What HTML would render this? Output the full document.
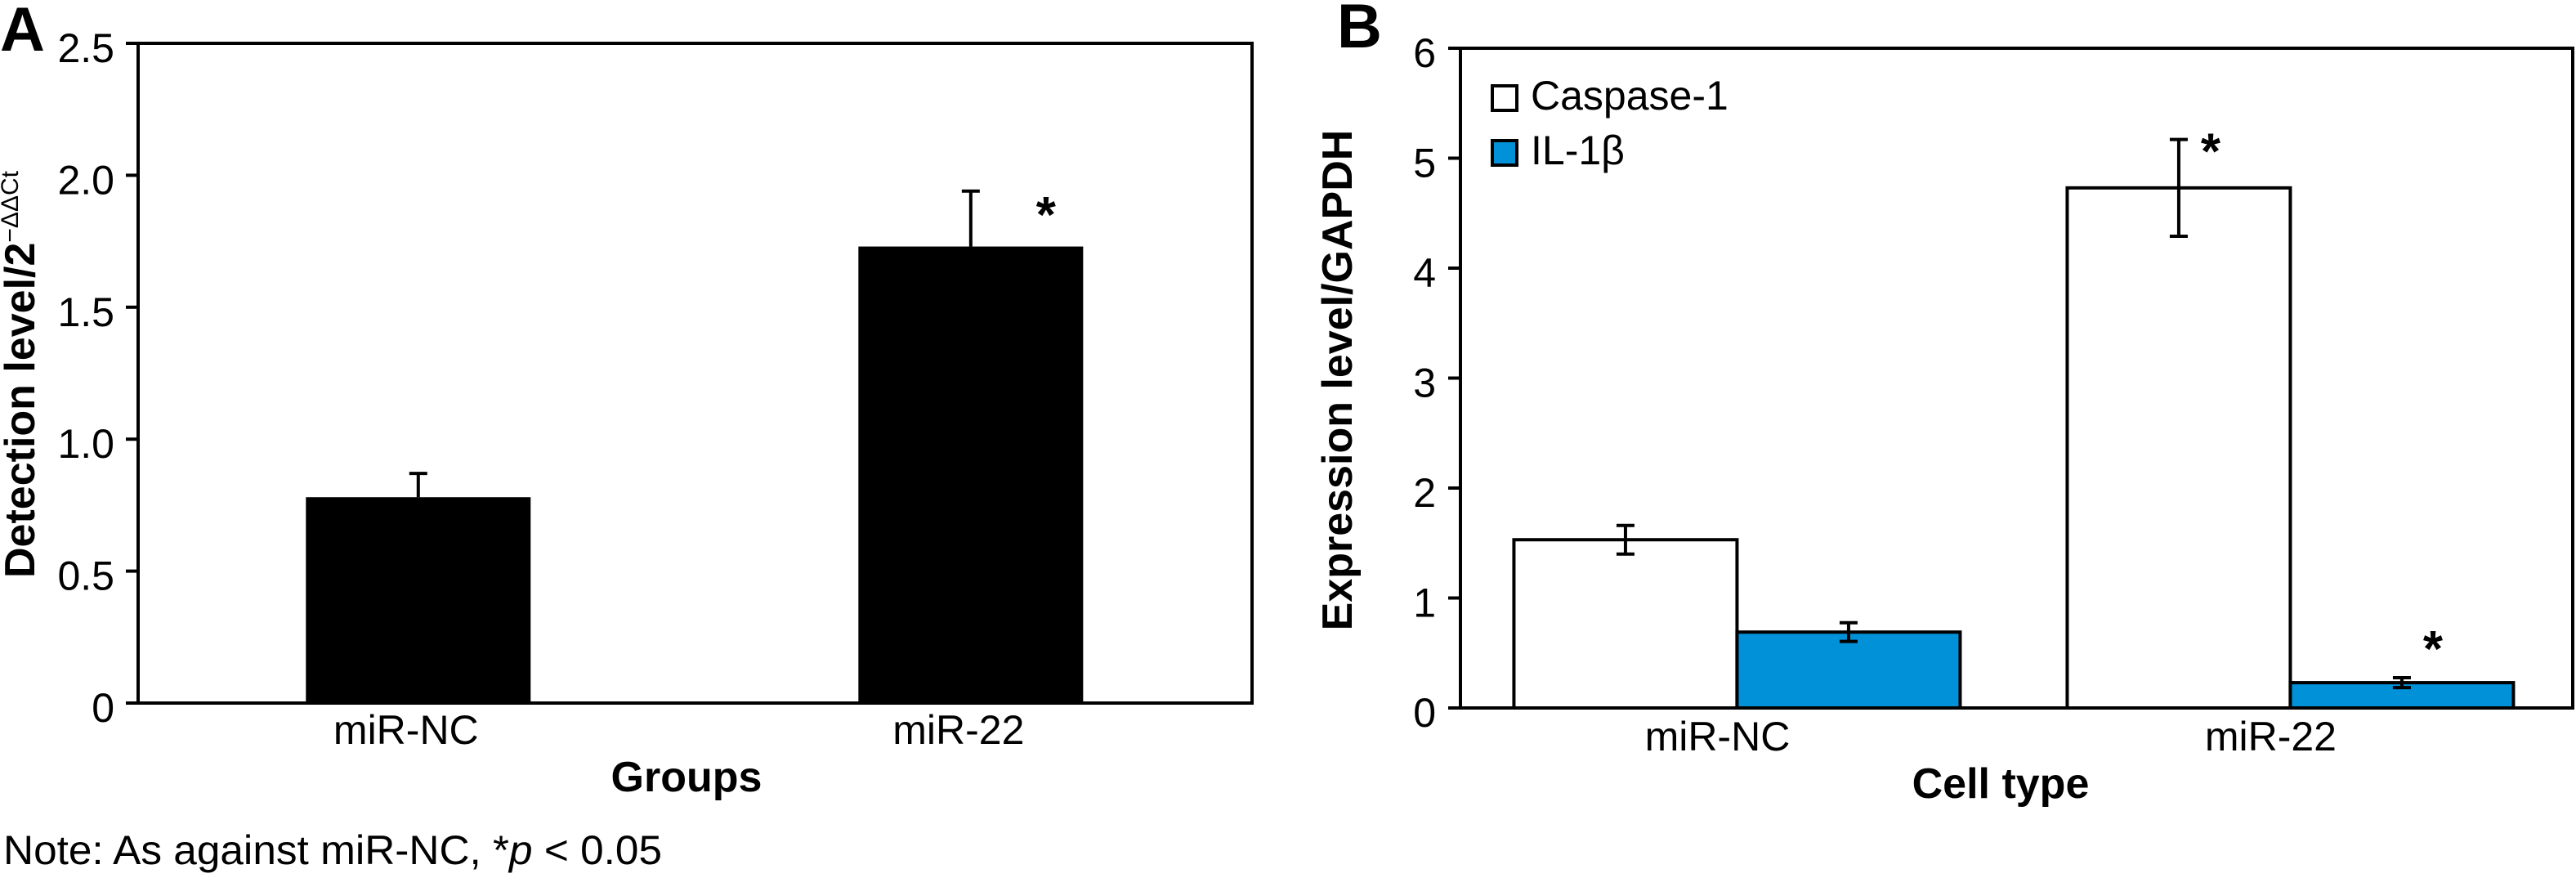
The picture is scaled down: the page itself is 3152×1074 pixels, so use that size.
<!DOCTYPE html>
<html><head><meta charset="utf-8"><style>
html,body{margin:0;padding:0;background:#fff;}
svg{display:block;}
text{font-family:"Liberation Sans Narrow","Liberation Sans",sans-serif;fill:#000;}
.b{font-weight:bold;}
</style></head><body>
<svg id="fig" width="3152" height="1074" viewBox="0 0 3152 1074" xmlns="http://www.w3.org/2000/svg">
<text x="0" y="62" font-size="76" class="b">A</text>
<text x="1636" y="58" font-size="76" class="b">B</text>
<text x="4" y="1057" font-size="50" textLength="806" lengthAdjust="spacingAndGlyphs">Note: As against miR-NC, *<tspan font-style="italic">p</tspan> &lt; 0.05</text>
<g id="ga"></g>
<g id="gb"></g>
</svg>
<script>
const aCategories = ["miR-NC", "miR-22"];
const aValues = [0.78, 1.73];
const aErrors = [0.09, 0.21];
const aTicks = [0, 0.5, 1.0, 1.5, 2.0, 2.5];
const aTickLabels = ["0", "0.5", "1.0", "1.5", "2.0", "2.5"];
const aSignificant = [false, true];

const bCategories = ["miR-NC", "miR-22"];
const bSeries = ["Caspase-1", "IL-1β"];
const bCaspase = [1.53, 4.73];
const bCaspaseErr = [0.13, 0.44];
const bIL = [0.69, 0.23];
const bILErr = [0.085, 0.045];
const bCaspaseSig = [false, true];
const bILSig = [false, true];
const bTicks = [0, 1, 2, 3, 4, 5, 6];
const bTickLabels = ["0", "1", "2", "3", "4", "5", "6"];

const NS = "http://www.w3.org/2000/svg";
function mk(parent, tag, attrs, txt) {
  const e = document.createElementNS(NS, tag);
  for (const k in attrs) e.setAttribute(k, attrs[k]);
  if (txt !== undefined) e.textContent = txt;
  parent.appendChild(e);
  return e;
}

// ---------- Chart A ----------
(function () {
  const g = document.getElementById("ga");
  const L = 169, R = 1532, T = 53, B = 860, ymax = 2.5;
  const y = v => B - (v / ymax) * (B - T);
  const band = (R - L) / aCategories.length;
  const xc = i => L + band * (i + 0.5) + (i === 0 ? -170 : 170) * 0 + (i === 0 ? -167 : -167) + (i === 0 ? 0 : 0);
  const bw = 275;
  aCategories.forEach((c, i) => {
    const cx = i === 0 ? L + (R - L) * 0.2515 : L + (R - L) * 0.7475;
    const r = mk(g, "rect", {x: cx - bw / 2, y: y(aValues[i]), width: bw, height: B - y(aValues[i]), fill: "#000"});
    
    
    const top = y(aValues[i] + aErrors[i]);
    const eb = mk(g, "path", {d: `M${cx} ${y(aValues[i])}V${top}M${cx - 11} ${top}H${cx + 11}`, stroke: "#000", "stroke-width": 4, fill: "none"});
    
    
    if (aSignificant[i]) {
      const s = mk(g, "text", {x: cx + 92, y: top + 50, "font-size": 62, "text-anchor": "middle", class: "b"}, "*");
      
      
    }
    const lb = mk(g, "text", {x: cx - 15, y: 910, "font-size": 50, "text-anchor": "middle"}, c);
    
    
  });
  const ax = mk(g, "path", {d: `M${L} ${T}H${R}V${B}H${L}Z`, stroke: "#000", "stroke-width": 4, fill: "none"});
  
  
  aTicks.forEach((t, i) => {
    const tk = mk(g, "line", {x1: L - 15, x2: L, y1: y(t), y2: y(t), stroke: "#000", "stroke-width": 4});
    
    
    const tl = mk(g, "text", {x: 140, y: y(t) + 23, "font-size": 50, "text-anchor": "end"}, aTickLabels[i]);
    
    
  });
  const xt = mk(g, "text", {x: 840, y: 968, "font-size": 52, "text-anchor": "middle", class: "b"}, "Groups");
  
  
  const yt = mk(g, "text", {x: 0, y: 0, "font-size": 52, "text-anchor": "middle", class: "b", transform: "translate(42,458) rotate(-90)"});
  
  
  yt.appendChild(document.createTextNode("Detection level/2"));
  const sup = mk(yt, "tspan", {dy: -20, "font-size": 30, "font-weight": "normal"}, "−ΔΔCt");
})();

// ---------- Chart B ----------
(function () {
  const g = document.getElementById("gb");
  const L = 1787, R = 3150, T = 59, B = 866, ymax = 6;
  const y = v => B - (v / ymax) * (B - T);
  const bw = 273;
  const centers = [L + (R - L) * 0.2483, L + (R - L) * 0.7450];
  const colors = ["#ffffff", "#0091d8"];
  const vals = [bCaspase, bIL], errs = [bCaspaseErr, bILErr], sigs = [bCaspaseSig, bILSig];
  bCategories.forEach((c, i) => {
    const cx = centers[i];
    [0, 1].forEach(s => {
      const x0 = s === 0 ? cx - bw : cx;
      const v = vals[s][i], e = errs[s][i];
      const r = mk(g, "rect", {x: x0, y: y(v), width: bw, height: B - y(v), fill: colors[s], stroke: "#000", "stroke-width": 4});
      
      
      const mx = x0 + bw / 2, t = y(v + e), b = y(v - e);
      const eb = mk(g, "path", {d: `M${mx} ${b}V${t}M${mx - 11} ${t}H${mx + 11}M${mx - 11} ${b}H${mx + 11}`, stroke: "#000", "stroke-width": 4, fill: "none"});
      
      
      if (sigs[s][i]) {
        const st = mk(g, "text", {x: mx + (s === 0 ? 39 : 38), y: t + (s === 0 ? 36 : -14), "font-size": 62, "text-anchor": "middle", class: "b"}, "*");
        
        
      }
    });
    const lb = mk(g, "text", {x: cx - 24, y: 918, "font-size": 50, "text-anchor": "middle"}, c);
    
    
  });
  const ax = mk(g, "path", {d: `M${L} ${T}H${R - 2}V${B}H${L}Z`, stroke: "#000", "stroke-width": 4, fill: "none"});
  
  
  bTicks.forEach((t, i) => {
    const tk = mk(g, "line", {x1: L - 15, x2: L, y1: y(t), y2: y(t), stroke: "#000", "stroke-width": 4});
    
    
    const tl = mk(g, "text", {x: 1757, y: y(t) + 23, "font-size": 50, "text-anchor": "end"}, bTickLabels[i]);
    
    
  });
  bSeries.forEach((s, i) => {
    const ly = i === 0 ? 105 : 172;
    const sw = mk(g, "rect", {x: 1826, y: ly, width: 30, height: 30, fill: colors[i], stroke: "#000", "stroke-width": 4});
    
    
    const lt = mk(g, "text", {x: 1873, y: ly + 29, "font-size": 50}, s);
    
    
  });
  const xt = mk(g, "text", {x: 2448, y: 976, "font-size": 52, "text-anchor": "middle", class: "b"}, "Cell type");
  
  
  const yt = mk(g, "text", {x: 0, y: 0, "font-size": 52, "text-anchor": "middle", class: "b", transform: "translate(1654,465) rotate(-90)"}, "Expression level/GAPDH");
  
  
})();
</script>
</body></html>
